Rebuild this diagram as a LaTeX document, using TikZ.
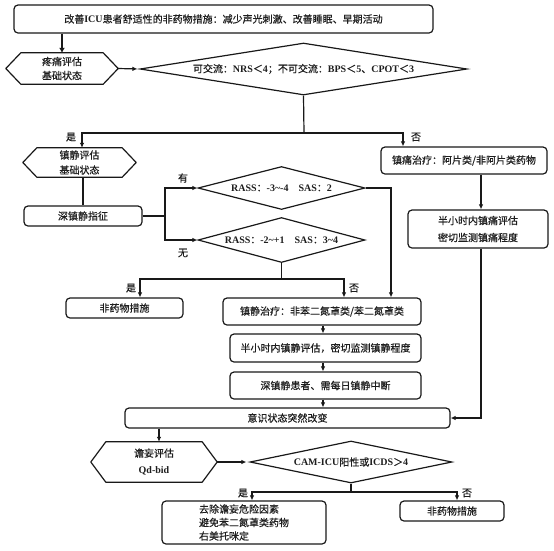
\documentclass[tikz,border=0pt]{standalone}
\usepackage{fontspec}
\setmainfont{Noto Sans CJK SC}[FakeBold=0.5]
\newfontfamily\latf{Liberation Serif}
\newcommand{\LS}[1]{{\latf\bfseries #1}}
\usetikzlibrary{shapes.geometric,arrows.meta,calc}
\definecolor{ln}{RGB}{25,25,25}
\definecolor{tx}{RGB}{30,30,30}
\newcommand{\hexdraw}[2]{\draw[shapeline] ([xshift=#2]#1.north west) -- ([xshift=-#2]#1.north east) -- (#1.east) -- ([xshift=-#2]#1.south east) -- ([xshift=#2]#1.south west) -- (#1.west) -- cycle;}
\tikzset{
  every node/.style={font=\fontsize{10}{12}\selectfont, text=tx},
  shapeline/.style={draw=ln, line width=1.2pt, line join=round},
  box/.style={draw=ln, line width=1.2pt, rounded corners=4pt, inner sep=0pt},
  hexn/.style={inner sep=0pt, align=center},
  dia/.style={draw=ln, line width=1.2pt, diamond, inner sep=0pt},
  conn/.style={draw=ln, line width=1.2pt},
  arr/.style={conn, -{Latex[length=5pt,width=4.5pt]}},
  bigarr/.style={draw=ln, line width=2.4pt, -{Latex[length=5pt,width=6pt]}},
  lbl/.style={font=\fontsize{10}{12}\selectfont}
}
\begin{document}
\begin{tikzpicture}[x=1pt,y=-1pt]
\useasboundingbox (0,0) rectangle (554,550);
\fill[white] (0,0) rectangle (554,550);

% nodes
\node[box, minimum width=419, minimum height=28] (top) at (223.5,19) {改善\LS{ICU}患者舒适性的非药物措施：减少声光刺激、改善睡眠、早期活动};
\node[hexn, minimum width=112, minimum height=31, font=\fontsize{10}{14}\selectfont] (h1) at (62,68.5) {疼痛评估\\基础状态};
\hexdraw{h1}{15}
\node[dia, minimum width=327, minimum height=52, aspect=6.3] (d1) at (303.5,69) {可交流：\LS{NRS}＜\LS{4}；不可交流：\LS{BPS}＜\LS{5}、\LS{CPOT}＜\LS{3}};

\node[hexn, minimum width=113, minimum height=29, font=\fontsize{10}{15}\selectfont] (h2) at (79.5,162.5) {镇静评估\\基础状态};
\hexdraw{h2}{14}
\node[box, minimum width=118, minimum height=20] (deep) at (83,216) {深镇静指征};
\node[dia, minimum width=167, minimum height=43, aspect=3.9] (dA) at (281.5,188) {\LS{RASS}：\LS{-3\textasciitilde-4}\hspace{10pt}\LS{SAS}：\LS{2}};
\node[dia, minimum width=167, minimum height=45, aspect=3.7] (dB) at (281.5,240) {\LS{RASS}：\LS{-2\textasciitilde+1}\hspace{10pt}\LS{SAS}：\LS{3\textasciitilde4}};

\node[box, minimum width=166, minimum height=27] (pain) at (464,160.5) {镇痛治疗：阿片类/非阿片类药物};
\node[box, minimum width=140, minimum height=38, align=center, font=\fontsize{10}{17}\selectfont] (painmon) at (478,229) {半小时内镇痛评估\\密切监测镇痛程度};

\node[box, minimum width=117, minimum height=20] (nd1) at (124.5,308) {非药物措施};
\node[box, minimum width=198, minimum height=27] (sed) at (322,311.5) {镇静治疗：非苯二氮䓬类/苯二氮䓬类};
\node[box, minimum width=191, minimum height=28] (mon) at (325.5,348) {半小时内镇静评估，密切监测镇静程度};
\node[box, minimum width=191, minimum height=27] (deep2) at (325.5,385.5) {深镇静患者、需每日镇静中断};
\node[box, minimum width=325, minimum height=20] (consc) at (287.5,418) {意识状态突然改变};

\node[hexn, minimum width=126, minimum height=40, font=\fontsize{10}{17}\selectfont] (h3) at (154,462) {谵妄评估\\\LS{Qd-bid}};
\hexdraw{h3}{15}
\node[dia, minimum width=202, minimum height=42, aspect=4.8] (dC) at (351,462) {\LS{CAM-ICU}阳性或\LS{ICDS}＞\LS{4}};
\node[box, minimum width=164, minimum height=43, align=left, font=\fontsize{10}{13.5}\selectfont] (del) at (244,522.5) {去除谵妄危险因素\\避免苯二氮䓬类药物\\右美托咪定};
\node[box, minimum width=104, minimum height=20] (nd2) at (452,511) {非药物措施};

% labels
\node[lbl] (l1) at (71,137) {是};
\node[lbl] (l2) at (416,137) {否};
\node[lbl] (l3) at (183,178) {有};
\node[lbl] (l4) at (183,253) {无};
\node[lbl] (l5) at (131,288) {是};
\node[lbl] (l6) at (354,288) {否};
\node[lbl] (l7) at (243,493) {是};
\node[lbl] (l8) at (467,493) {否};

% helper coordinates
\coordinate (s1) at (304,133);
\coordinate (j) at (165,216);
\coordinate (s2) at (281.5,279);
\coordinate (col) at (323,0);
\coordinate (col2) at (481,0);
\coordinate (col3) at (159,0);
\coordinate (s3) at (351,492);

% connectors
\draw[bigarr] (h1.north |- top.south) -- (h1.north);
\draw[arr, shorten >=2pt] (h1.east) -- (d1.west);
\draw[conn] (d1.south) -- (s1);
\draw[arr] (s1) -| ([xshift=2.5]h2.north);
\draw[arr] (s1) -| ([xshift=-61]pain.north);
\draw[conn] (deep.north |- h2.south) -- (deep.north);
\draw[conn] (deep.east) -- (j);
\draw[arr] (j) |- (dA.west);
\draw[arr] (j) |- (dB.west);
\draw[arr] (dA.east) -| ([xshift=69]sed.north);
\draw[conn] (dB.south) -- (s2);
\draw[arr] (s2) -| ([xshift=15.5]nd1.north);
\draw[arr] (s2) -| ([xshift=22]sed.north);
\draw[arr] (col |- sed.south) -- (col |- mon.north);
\draw[arr] (col |- mon.south) -- (col |- deep2.north);
\draw[arr] (col |- deep2.south) -- (col |- consc.north);
\draw[arr] (col2 |- pain.south) -- (col2 |- painmon.north);
\draw[arr] (col2 |- painmon.south) |- (consc.east);
\draw[arr] (col3 |- consc.south) -- (col3 |- h3.north);
\draw[arr, shorten >=3pt] (h3.east) -- (dC.west);
\draw[conn] (dC.south) -- (s3);
\draw[arr] (s3) -| ([xshift=8]del.north);
\draw[arr] (s3) -| ([xshift=5]nd2.north);
\end{tikzpicture}
\end{document}
